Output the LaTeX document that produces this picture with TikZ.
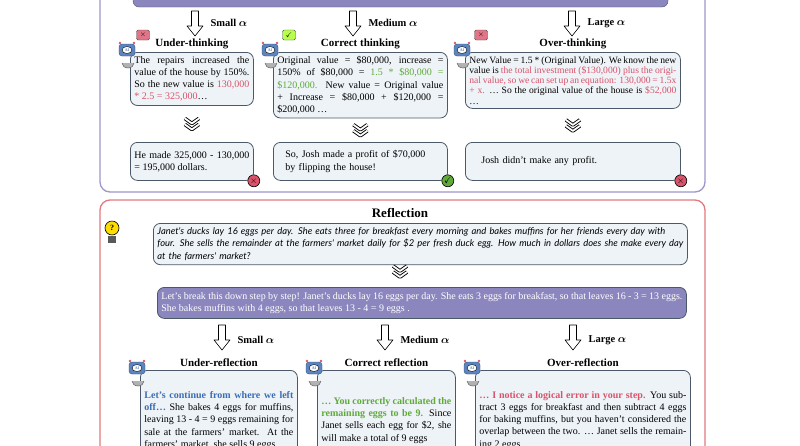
\documentclass[tikz,border=0pt]{standalone}
\usepackage{amsmath,amssymb}
\usepackage{fontspec}
\setmainfont{Liberation Serif}
\newfontfamily\handfont{Lato}
\usetikzlibrary{positioning,calc}
\definecolor{boxfill}{HTML}{EEF3F7}
\definecolor{boxline}{HTML}{4A5868}
\definecolor{purplebox}{HTML}{8C86BF}
\definecolor{purpleframe}{HTML}{9D97CC}
\definecolor{redframe}{HTML}{E2797F}
\definecolor{wrongred}{HTML}{D9536A}
\definecolor{rightgreen}{HTML}{5FAA3A}
\definecolor{calmblue}{HTML}{3B6DB3}
\definecolor{robotblue}{HTML}{5C84C0}
\newcommand{\wrong}[1]{\textcolor{wrongred}{#1}}
\newcommand{\good}[1]{\textcolor{rightgreen}{#1}}
\begin{document}
\begin{tikzpicture}
	[x=1pt,y=-1pt,line join=round,
	%Styles
	panel/.style={rounded corners=10pt,line width=1.3pt,fill=white},
	step box/.style={draw=boxline,fill=boxfill,rounded corners=7pt,line width=.8pt,
		anchor=north west,inner sep=4pt,align=justify,font=\fontsize{10}{12.2}\selectfont},
	title/.style={font=\bfseries\fontsize{11}{13}\selectfont},
	alpha label/.style={font=\bfseries\fontsize{10.5}{12}\selectfont,anchor=west},
	hollow arrow/.pic={\draw[fill=white,line width=.6pt] (-3.5,0) -- (3.5,0) -- (3.5,15) -- (8,15) -- (0,25) -- (-8,15) -- (-3.5,15) -- cycle;},
	chevrons/.pic={\foreach \d in {0,6}{\draw[line width=3.6pt] (-7,\d) -- (0,\d+5) -- (7,\d);
			\draw[white,line width=1.8pt] (-7,\d) -- (0,\d+5) -- (7,\d);}},
	robot/.pic={\fill[gray!60] (-5,13) arc (180:0:6 and 5) -- cycle;
		\draw[gray!80!black,line width=.5pt] (-5,13) arc (180:0:6 and 5);
		\fill[wrongred] (-7,-7) circle (1.3) (7,-7) circle (1.3);
		\draw[fill=robotblue,draw=robotblue!60!black,rounded corners=3pt] (-8,-6) rectangle (8,6);
		\draw[fill=white] (0,0) ellipse (5 and 3.5);
		\node[font=\bfseries\fontsize{4}{4}\selectfont,text=robotblue] at (0,0) {AI};},
	cross badge/.style={circle,fill=wrongred,draw=black,line width=.6pt,inner sep=0pt,minimum size=12pt,
		font=\bfseries\fontsize{9}{9}\selectfont,text=black},
	flag/.style={rounded corners=1.5pt,draw=gray!60!black,line width=.4pt,inner sep=0pt,minimum width=13pt,
		minimum height=10pt,font=\bfseries\fontsize{7}{7}\selectfont}
	]
	\useasboundingbox (0,0) rectangle (800,445);
	
	%Thinking panel
	\draw[panel,draw=purpleframe] (100,-20) rectangle (705,192);
	\draw[fill=purplebox,draw=boxline,rounded corners=6pt] (133,-30) rectangle (668,7);
	\foreach \x/\a in {195/Small,353/Medium,572/Large}
	{
		\pic at (\x,11) {hollow arrow};
		\node[alpha label] at (\x+12,23) {\a\ $\boldsymbol{\alpha}$};
	}
	
	\node[step box,text width=115pt] (under) at (130,52) {The repairs increased the value of the house by 150\%. So the new value is \wrong{130,000 * 2.5 = 325,000}\dots};
	\node[step box,text width=166pt] (correct) at (273,52) {Original value = \$80,000, increase = 150\% of \$80,000 = \good{1.5 * \$80,000 = \$120,000.} New value = Original value + Increase = \$80,000 + \$120,000 = \$200,000 \dots};
	\node[step box,text width=207pt,font=\fontsize{9.6}{10.3}\selectfont] (over) at (465,52) {New Value = 1.5 * (Original Value). We know the new value is \wrong{the total investment (\$130,000) plus the original value, so we can set up an equation: 130,000 = 1.5x + x.} \dots\ So the original value of the house is \wrong{\$52,000} \dots};
	\node[title,above=0pt of under] {Under-thinking};
	\node[title,above=0pt of correct] {Correct thinking};
	\node[title,above=0pt of over] {Over-thinking};
	
	\node[step box,text width=115pt,minimum height=38pt] (under-end) at (130,142) {He made 325,000 - 130,000 = 195,000 dollars.};
	\node[step box,text width=166pt,minimum height=38pt,align=left] (correct-end) at (273,142) {\hspace*{8pt}\parbox[t]{150pt}{So, Josh made a profit of \$70,000 by flipping the house!}};
	\node[step box,text width=207pt,minimum height=38pt,align=left] (over-end) at (465,142) {\hspace*{12pt}Josh didn't make any profit.};
	\foreach \n in {under,correct,over}
		\pic[yshift=5.5pt] at ($(\n.south)!.5!(\n-end.north)$) {chevrons};
	
	\node[cross badge] at (under-end.south east) {$\times$};
	\node[cross badge,fill=rightgreen] at (correct-end.south east) {\checkmark};
	\node[cross badge] at (over-end.south east) {$\times$};
	
	\pic at (127,50) {robot};
	\pic at (270,50) {robot};
	\pic at (462,50) {robot};
	\node[flag,fill=wrongred!80] at (143,35) {$\times$};
	\node[flag,fill=green!40!yellow!70] at (289,35) {\checkmark};
	\node[flag,fill=wrongred!80] at (481,35) {$\times$};
	
	%Reflection panel
	\draw[panel,draw=redframe] (100,200) rectangle (705,470);
	\node[title,font=\bfseries\fontsize{13}{15}\selectfont] (reflect) at (400,213) {Reflection};
	\node[step box,text width=526pt,font=\handfont\itshape\fontsize{9.4}{12.6}\selectfont,align=left] (question) at (153,223) {Janet's ducks lay 16 eggs per day. She eats three for breakfast every morning and bakes muffins for her friends every day with four. She sells the remainder at the farmers' market daily for \$2 per fresh duck egg. How much in dollars does she make every day at the farmers' market?};
	\draw[fill=yellow!80!orange,draw=black,line width=.6pt] (112,228) circle (7);
	\node[font=\bfseries\fontsize{8}{8}\selectfont] at (112,228) {?};
	\fill[gray!70!black] (108,236) rectangle (116,243);
	\pic at (400,266) {chevrons};
	\node[step box,fill=purplebox,text=white,text width=521pt,minimum height=31pt,font=\fontsize{10}{12.5}\selectfont] (steps) at (157,287) {Let's break this down step by step! Janet's ducks lay 16 eggs per day. She eats 3 eggs for breakfast, so that leaves 16 - 3 = 13 eggs. She bakes muffins with 4 eggs, so that leaves 13 - 4 = 9 eggs .};
	\foreach \x/\a in {222/Small,385/Medium,573/Large}
	{
		\pic at (\x,325) {hollow arrow};
		\node[alpha label] at (\x+12,340) {\a\ $\boldsymbol{\alpha}$};
	}
	
	\node[step box,text width=149pt,minimum height=100pt] (under-refl) at (140,370) {\textcolor{calmblue}{\bfseries Let's continue from where we left off\dots} She bakes 4 eggs for muffins, leaving 13 - 4 = 9 eggs remaining for sale at the farmers' market. At the farmers' market, she sells 9 eggs};
	\node[step box,text width=130pt,minimum height=100pt] (correct-refl) at (317,370) {\good{\bfseries\dots\ You correctly calculated the remaining eggs to be 9.} Since Janet sells each egg for \$2, she will make a total of 9 eggs};
	\node[step box,text width=207pt,minimum height=100pt] (over-refl) at (475,370) {\wrong{\bfseries\dots\ I notice a logical error in your step.} You subtract 3 eggs for breakfast and then subtract 4 eggs for baking muffins, but you haven't considered the overlap between the two. \dots\ Janet sells the remaining 2 eggs};
	\node[title,above=0pt of under-refl] {Under-reflection};
	\node[title,above=0pt of correct-refl] {Correct reflection};
	\node[title,above=0pt of over-refl] {Over-reflection};
	\pic at (137,368) {robot};
	\pic at (314,368) {robot};
	\pic at (472,368) {robot};
\end{tikzpicture}
\end{document}
